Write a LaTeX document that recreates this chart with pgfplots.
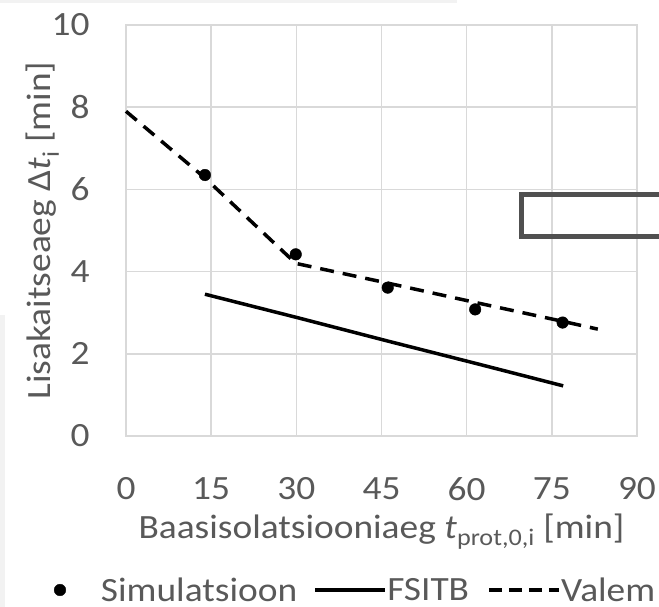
\documentclass[border=0pt]{standalone}
\usepackage{fontspec}
\setmainfont{Carlito}[FakeStretch=1.1]
\usepackage{pgfplots}
\pgfplotsset{compat=1.18}
\definecolor{txt}{HTML}{595959}
\definecolor{grd}{HTML}{D9D9D9}
\definecolor{boxc}{HTML}{505050}
\newcommand{\chfont}{\fontsize{34}{40}\selectfont}
\begin{document}
\begin{tikzpicture}
\path[use as bounding box] (-126pt,-171pt) rectangle (533pt,436pt);
\clip (-126pt,-171pt) rectangle (533pt,436pt);
\fill[black!5] (-126pt,-171pt) rectangle (-121pt,121pt);
\fill[black!5] (-126pt,436pt) rectangle (331pt,433pt);
\begin{axis}[
  at={(0pt,0pt)}, anchor=south west, scale only axis,
  width=511pt, height=411pt,
  xmin=0, xmax=90, ymin=0, ymax=10,
  xtick={0,15,30,45,60,75,90}, ytick={0,2,4,6,8,10},
  grid=major, grid style={draw=grd, line width=1.5pt},
  axis line style={draw=grd, line width=1.5pt},
  major tick length=0pt, tick style={draw=none},
  /pgf/number format/assume math mode=true,
  ticklabel style={text=txt, font=\chfont},
  xticklabel style={yshift=-38pt},
  yticklabel style={xshift=-33pt},
  xlabel={Baasisolatsiooniaeg \textit{t}\textsubscript{prot,0,i} [min]},
  ylabel={Lisakaitseaeg Δ\textit{t}\textsubscript{i} [min]},
  label style={text=txt, font=\chfont},
  xlabel style={at={(axis description cs:0.5,-0.2482)}, anchor=base},
  ylabel style={at={(axis description cs:-0.1468,0.5)}, anchor=base},
  clip=false,
  legend columns=-1,
  legend style={draw=none, fill=none, inner sep=0pt, outer sep=0pt,
    column sep=0pt, font=\chfont, text=txt, nodes={inner sep=0pt},
    at={(axis description cs:-0.1409,-0.3747)}, anchor=west},
]
\addplot[only marks, mark=*, mark size=5.8pt, black,
  legend image code/.code={\fill[black] (0pt,0pt) circle (5.8pt); \path[draw=none] (0pt,0pt) -- (41pt,0pt);}]
  coordinates {(13.9,6.35) (29.9,4.42) (46.1,3.61) (61.5,3.08) (76.9,2.76)};
\addlegendentry{Simulatsioon}
\addplot[black, line width=3.5pt,
  legend image code/.code={\draw[black, line width=3.5pt] (18pt,0pt) -- (88pt,0pt); \path[draw=none] (0pt,0pt) -- (90pt,0pt);}]
  coordinates {(13.9,3.45) (29.9,2.89) (46.1,2.31) (61.5,1.77) (77.0,1.22)};
\addlegendentry{FSITB}
\addplot[black, line width=3.5pt, dash pattern=on 14pt off 9pt,
  legend image code/.code={\draw[black, line width=3.5pt, dash pattern=on 13pt off 7pt] (20pt,0pt) -- (90pt,0pt); \path[draw=none] (0pt,0pt) -- (92pt,0pt);}]
  coordinates {(0,7.9) (13.9,6.28) (29.9,4.2) (46.1,3.72) (61.5,3.25) (76.9,2.79) (83.1,2.6)};
\addlegendentry{Valem}
\draw[boxc, line width=5pt] (axis cs:69.65,4.854) rectangle (axis cs:110,5.876);
\end{axis}
\end{tikzpicture}
\end{document}
